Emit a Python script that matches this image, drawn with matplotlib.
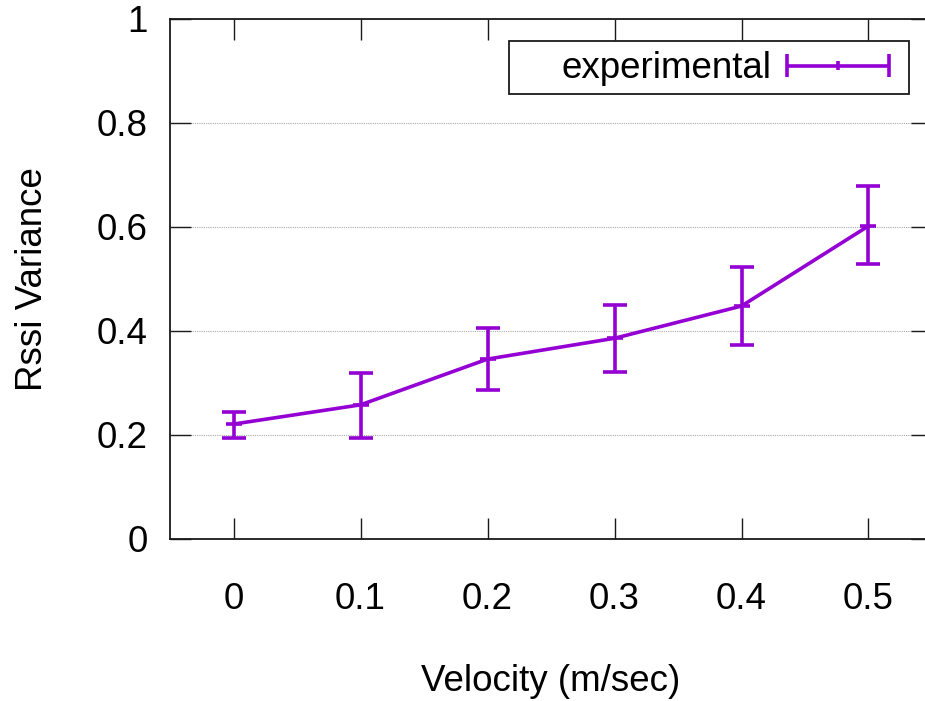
import matplotlib
matplotlib.use("Agg")
import matplotlib.pyplot as plt
from matplotlib.lines import Line2D
from matplotlib.patches import Rectangle
from matplotlib.legend_handler import HandlerBase

velocity = [0.0, 0.1, 0.2, 0.3, 0.4, 0.5]
rssi_var = [0.221, 0.258, 0.346, 0.386, 0.448, 0.602]
err_low = [0.027, 0.064, 0.060, 0.065, 0.074, 0.073]
err_high = [0.023, 0.062, 0.059, 0.064, 0.075, 0.077]

x_ticks = [0, 0.1, 0.2, 0.3, 0.4, 0.5]
x_labels = ["0", "0.1", "0.2", "0.3", "0.4", "0.5"]
y_ticks = [0, 0.2, 0.4, 0.6, 0.8, 1.0]
y_labels = ["0", "0.2", "0.4", "0.6", "0.8", "1"]

PURPLE = "#9400d3"
FS = 26.5
LW = 2.6

plt.rcParams["font.family"] = ["Liberation Sans", "DejaVu Sans"]


class GnuErrHandler(HandlerBase):
    # gnuplot style key sample: bar with end caps and a small mid tick
    def create_artists(self, legend, orig_handle, xdescent, ydescent,
                       width, height, fontsize, trans):
        y = height / 2 - ydescent
        x0, x1 = -xdescent, width - xdescent
        xm = (x0 + x1) / 2
        cap, tick = 8.5, 3.5
        kw = dict(color=PURPLE, lw=LW, solid_capstyle="butt", transform=trans)
        return [
            Line2D([x0, x1], [y, y], **kw),
            Line2D([x0, x0], [y - cap, y + cap], **kw),
            Line2D([x1, x1], [y - cap, y + cap], **kw),
            Line2D([xm, xm], [y - tick, y + tick], **kw),
        ]


fig = plt.figure(figsize=(9.25, 7.01), dpi=100)
ax = fig.add_axes([170 / 925, 162 / 701, 762 / 925, 520 / 701])

eb = ax.errorbar(velocity, rssi_var, yerr=[err_low, err_high], color=PURPLE,
                 lw=LW, elinewidth=LW, capsize=8.5, capthick=LW,
                 marker="_", ms=12, mew=LW, label="experimental", zorder=3)

ax.set_xlim(-0.05, 0.55)
ax.set_ylim(0, 1)
ax.set_xticks(x_ticks)
ax.set_xticklabels(x_labels, fontsize=FS)
ax.set_yticks(y_ticks)
ax.set_yticklabels(y_labels, fontsize=FS)
ax.tick_params(axis="both", direction="in", length=15, width=1.0,
               top=True, right=True, color="#1a1a1a")
ax.tick_params(axis="x", pad=31)
ax.tick_params(axis="y", pad=16)
ax.grid(axis="y", color="#aaaaaa", ls=(0, (1, 1)), lw=0.8)
ax.set_axisbelow(True)
for sp in ax.spines.values():
    sp.set_linewidth(1.3)
    sp.set_color("#1a1a1a")

ax.set_xlabel("Velocity (m/sec)", fontsize=FS, labelpad=34)
ax.set_ylabel("Rssi Variance", fontsize=FS, labelpad=34)

# key box drawn like gnuplot's
ax.add_patch(Rectangle((339 / 762, (539 - 94) / 520), 400 / 762, 53.3 / 520,
                       transform=ax.transAxes, fill=False, lw=1.3,
                       edgecolor="#1a1a1a", zorder=4, clip_on=False))
ax.legend(handles=[eb], labels=["experimental"], loc="center right",
          bbox_to_anchor=(889 / 762 - 170 / 762, (539 - 69) / 520),
          frameon=False, markerfirst=False, fontsize=FS,
          handlelength=102 / 36.8, handletextpad=15 / 36.8, borderpad=0,
          borderaxespad=0, handler_map={type(eb): GnuErrHandler()})

fig.savefig("out.png", dpi=100)
